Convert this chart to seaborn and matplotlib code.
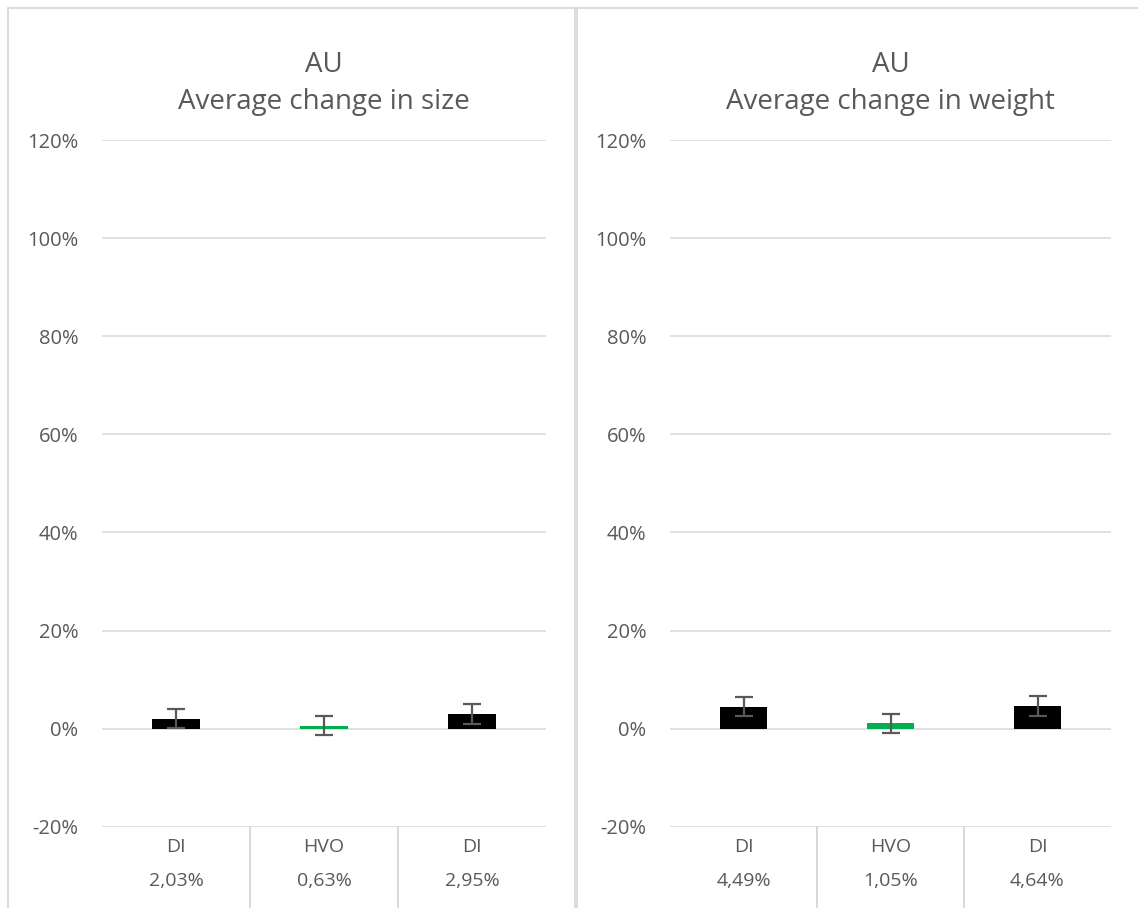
import matplotlib
matplotlib.use("Agg")
import matplotlib.pyplot as plt
import matplotlib.transforms as mtransforms
from matplotlib.lines import Line2D
from matplotlib.ticker import PercentFormatter, MultipleLocator
import numpy as np
import pandas as pd
import seaborn as sns

# Data (percent change)
categories = ["DI", "HVO", "DI"]
size_change = [2.03, 0.63, 2.95]
size_error = [2.0, 2.0, 2.0]
weight_change = [4.49, 1.05, 4.64]
weight_error = [2.0, 2.0, 2.0]
bar_colors = ["#000000", "#00B050", "#000000"]
panel_titles = ["AU\nAverage change in size", "AU\nAverage change in weight"]

sns.set_theme(style="white")
plt.rcParams["font.family"] = ["Open Sans", "DejaVu Sans"]
plt.rcParams["axes.unicode_minus"] = False

TEXT = "#595959"
GRID = "#D9D9D9"

W, H = 1138, 908
fig = plt.figure(figsize=(W / 100, H / 100), dpi=100)
fig.patch.set_facecolor("white")


def px_box(x0, x1, y_top, y_bot):
    return [x0 / W, 1 - y_bot / H, (x1 - x0) / W, (y_bot - y_top) / H]


axes = [fig.add_axes(px_box(102, 546, 140, 826.7)),
        fig.add_axes(px_box(670, 1111, 140, 826.7))]

panels = [(size_change, size_error), (weight_change, weight_error)]

for ax, (vals, errs), title in zip(axes, panels, panel_titles):
    df = pd.DataFrame({"pos": list(range(len(categories))), "value": vals})
    sns.barplot(data=df, x="pos", y="value", hue="pos", palette=bar_colors,
                width=0.32, errorbar=None, legend=False, ax=ax, zorder=3,
                saturation=1, linewidth=0)
    ax.errorbar(df["pos"], df["value"], yerr=errs, fmt="none",
                ecolor="#595959", elinewidth=1.6, capsize=6.5, capthick=1.6,
                zorder=4)

    ax.set_ylim(-20, 120)
    ax.set_xlim(-0.5, len(categories) - 0.5)
    ax.yaxis.set_major_locator(MultipleLocator(20))
    ax.yaxis.set_major_formatter(PercentFormatter(100, decimals=0))
    ax.grid(axis="y", color=GRID, linewidth=1.1, zorder=0)
    ax.grid(axis="x", visible=False)
    for s in ax.spines.values():
        s.set_visible(False)
    ax.tick_params(axis="y", length=0, pad=17, labelsize=14.5, labelcolor=TEXT)
    ax.set_xticks([])
    ax.set_xlabel("")
    ax.set_ylabel("")
    ax.set_title(title, fontsize=20, color=TEXT, pad=22, linespacing=1.45)

    # data table under the axis: category row and value row
    trans = mtransforms.blended_transform_factory(ax.transData, ax.transAxes)
    px = 1 / (826.7 - 140)
    for i, (cat, v) in enumerate(zip(categories, vals)):
        ax.text(i, -20 * px, cat, transform=trans, ha="center", va="center",
                fontsize=14, color=TEXT)
        ax.text(i, -54 * px, f"{v:.2f}".replace(".", ",") + "%", transform=trans,
                ha="center", va="center", fontsize=14, color=TEXT)
    for b in np.arange(0.5, len(categories) - 0.5, 1.0):
        ax.plot([b, b], [0, -0.2], transform=trans, color=GRID, lw=1.4,
                clip_on=False)

# chart frames
fl = dict(color=GRID, lw=1.3, transform=fig.transFigure)
def fx(x):
    return x / W
def fy(y):
    return 1 - y / H
fig.add_artist(Line2D([fx(8), fx(8)], [fy(8), fy(920)], **fl))
fig.add_artist(Line2D([fx(8), fx(575)], [fy(8), fy(8)], **fl))
fig.add_artist(Line2D([fx(575), fx(575)], [fy(8), fy(920)], **fl))
fig.add_artist(Line2D([fx(577), fx(1150)], [fy(8), fy(8)], **fl))
fig.add_artist(Line2D([fx(577), fx(577)], [fy(8), fy(920)], **fl))

fig.savefig("out.png", dpi=100, facecolor="white")
